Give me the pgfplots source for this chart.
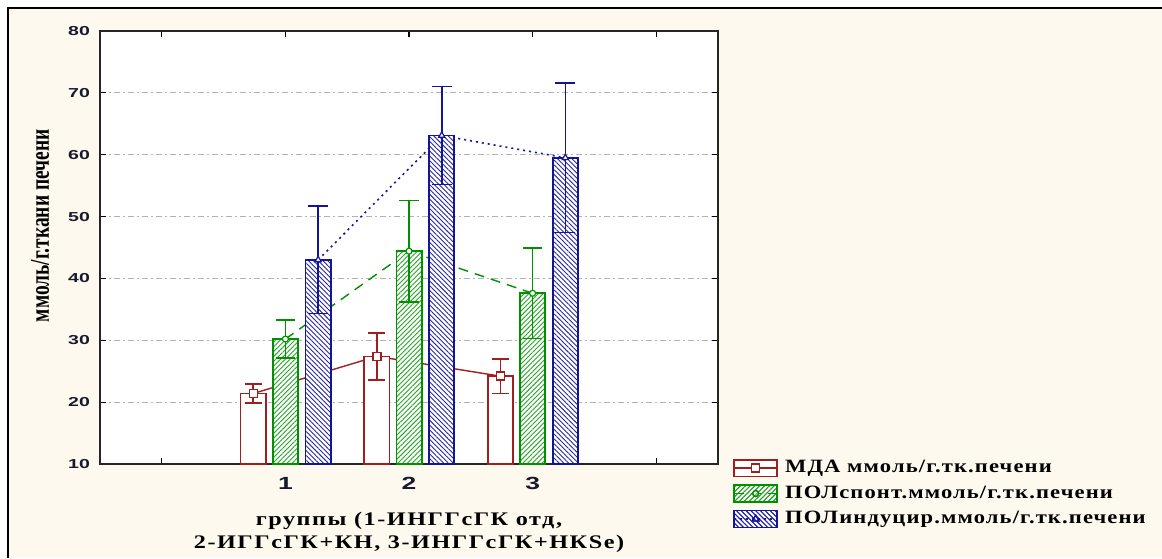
\documentclass[border=0pt]{standalone}
\usepackage{fontspec}
\setmainfont{Liberation Serif}
\newfontfamily\labelfont{Liberation Serif}[FakeStretch=1.2,LetterSpace=6]
\newfontfamily\xlabfont{Liberation Serif}[FakeStretch=1.26,LetterSpace=8]
\newfontfamily\ylabfont{Liberation Serif}[FakeStretch=0.72]
\newfontfamily\tickfont{Liberation Sans}[FakeStretch=1.5]
\usepackage{pgfplots}
\pgfplotsset{compat=1.18}
\usepackage{pgfplotstable}
\usetikzlibrary{patterns.meta}

\definecolor{bgcream}{RGB}{254,249,238}
\definecolor{mdared}{RGB}{160,30,30}
\definecolor{spgreen}{RGB}{0,145,0}
\definecolor{sphatch}{RGB}{40,165,40}
\definecolor{indblue}{RGB}{20,20,150}
\definecolor{indhatch}{RGB}{40,40,160}
\definecolor{ticktext}{RGB}{25,25,45}

\pgfplotstableread{
x  mda  mdae  sp   spe  ind  inde
1  21.4 1.5   30.2 3.1  43.0 8.7
2  27.4 3.8   44.4 8.2  63.1 7.9
3  24.2 2.8   37.6 7.3  59.5 12.1
}\data

\begin{document}
\begin{tikzpicture}
\fill[white] (0,0) rectangle (581pt,279pt);
\fill[bgcream] (4pt,0) rectangle (581pt,275pt);
\draw[black, line width=1pt] (4pt,0) -- (4pt,275pt) -- (581pt,275pt);
\begin{axis}[
  at={(50pt,47pt)}, anchor=south west,
  scale only axis, width=309pt, height=216.5pt,
  axis background/.style={fill=white},
  xmin=-0.5, xmax=4.5, ymin=10, ymax=80,
  xtick={0,1,2,3,4}, xticklabels={,1,2,3,},
  ytick={10,20,...,80},
  tick align=inside, major tick length=3pt,
  tick style={black, line width=0.6pt},
  ymajorgrids,
  grid style={gray!60, line width=0.5pt, dash pattern=on 3pt off 1.5pt on 1pt off 1.5pt},
  axis line style={black!85, line width=0.9pt},
  /pgf/number format/assume math mode=true,
  yticklabel style={font=\tickfont\bfseries\fontsize{6.5}{7}\selectfont, text=ticktext, xshift=-1.5pt},
  xticklabel style={font=\tickfont\bfseries\fontsize{8.8}{10}\selectfont, text=ticktext, yshift=-3pt},
  ylabel={ммоль/г.ткани печени},
  ylabel style={font=\ylabfont\bfseries\fontsize{13.5}{14}\selectfont, at={(axis description cs:-0.097,0.55)}, anchor=center},
  xlabel={группы (1-ИНГГсГК отд,\\2-ИГГсГК+КН, 3-ИНГГсГК+НКSe)},
  xlabel style={font=\xlabfont\bfseries\fontsize{9.6}{11.5}\selectfont, align=center, at={(axis description cs:0.5,-0.158)}, anchor=center},
  legend style={at={(axis description cs:1,0)}, anchor=north west, xshift=7.5pt, yshift=3pt, draw=none, fill=none, inner sep=0pt, row sep=3pt, font=\labelfont\bfseries\fontsize{9.4}{11}\selectfont, nodes={inner sep=1pt}},
  legend cell align=left,
]
% connecting lines (behind the bars)
\addplot[forget plot, mdared, line width=0.7pt] table[x expr=\thisrow{x}-0.26, y=mda] {\data};
\addplot[forget plot, spgreen, line width=0.7pt, dash pattern=on 5pt off 3.5pt] table[x=x, y=sp] {\data};
\addplot[forget plot, indblue, line width=0.8pt, dash pattern=on 1pt off 2pt] table[x expr=\thisrow{x}+0.265, y=ind] {\data};
% bars
\addplot[ybar, bar width=12.6pt, bar shift=0pt, draw=mdared, fill=white, line width=0.8pt,
  legend image code/.code={
    \draw[draw=mdared, fill=white, line width=0.8pt] (0pt,-4.2pt) rectangle (21.5pt,4.2pt);
    \draw[mdared, line width=0.7pt] (0pt,0pt) -- (21.5pt,0pt);
    \draw[mdared, fill=white, line width=0.7pt] (8.75pt,-2pt) rectangle (12.75pt,2pt);
    \path (24pt,0pt);
  }] table[x expr=\thisrow{x}-0.26, y=mda] {\data};
\addlegendentry{МДА ммоль/г.тк.печени}
\addplot[ybar, bar width=12.6pt, bar shift=0pt, draw=spgreen, fill=white, line width=0.9pt,
  postaction={pattern={Lines[angle=45,distance=1.7pt,line width=0.45pt]}, pattern color=sphatch},
  legend image code/.code={
    \draw[draw=spgreen, fill=white, line width=0.8pt, postaction={pattern={Lines[angle=45,distance=1.7pt,line width=0.45pt]}, pattern color=sphatch}] (0pt,-4.2pt) rectangle (21.5pt,4.2pt);
    \draw[spgreen, line width=0.7pt, dash pattern=on 5pt off 3.5pt] (0pt,0pt) -- (21.5pt,0pt);
    \draw[spgreen, fill=white, line width=0.6pt] (10.75pt,0pt) circle (1.5pt);
    \path (24pt,0pt);
  }] table[x=x, y=sp] {\data};
\addlegendentry{ПОЛспонт.ммоль/г.тк.печени}
\addplot[ybar, bar width=12.6pt, bar shift=0pt, draw=indblue, fill=white, line width=0.9pt,
  postaction={pattern={Lines[angle=-45,distance=1.7pt,line width=0.45pt]}, pattern color=indhatch},
  legend image code/.code={
    \draw[draw=indblue, fill=white, line width=0.8pt, postaction={pattern={Lines[angle=-45,distance=1.7pt,line width=0.45pt]}, pattern color=indhatch}] (0pt,-4.2pt) rectangle (21.5pt,4.2pt);
    \draw[indblue, line width=0.8pt, dash pattern=on 1pt off 2pt] (0pt,0pt) -- (21.5pt,0pt);
    \draw[indblue, fill=white, line width=0.6pt] (9.1pt,-1pt) -- (12.4pt,-1pt) -- (10.75pt,1.9pt) -- cycle;
    \path (24pt,0pt);
  }] table[x expr=\thisrow{x}+0.265, y=ind] {\data};
\addlegendentry{ПОЛиндуцир.ммоль/г.тк.печени}
% error bars and means
\addplot[forget plot, only marks, mdared, mark=square*, mark size=2pt, mark options={fill=white, solid, line width=0.7pt},
  error bars/.cd, y dir=both, y explicit,
  error bar style={line width=0.8pt, solid},
  error mark options={rotate=90, mark size=4.3pt, line width=0.8pt, solid}]
  table[x expr=\thisrow{x}-0.26, y=mda, y error=mdae] {\data};
\addplot[forget plot, only marks, spgreen, mark=*, mark size=1.5pt, mark options={fill=white, solid, line width=0.6pt},
  error bars/.cd, y dir=both, y explicit,
  error bar style={line width=0.8pt, solid},
  error mark options={rotate=90, mark size=4.8pt, line width=0.8pt, solid}]
  table[x=x, y=sp, y error=spe] {\data};
\addplot[forget plot, only marks, indblue, mark=triangle*, mark size=1.8pt, mark options={fill=white, solid, line width=0.6pt},
  error bars/.cd, y dir=both, y explicit,
  error bar style={line width=0.8pt, solid},
  error mark options={rotate=90, mark size=5pt, line width=0.8pt, solid}]
  table[x expr=\thisrow{x}+0.265, y=ind, y error=inde] {\data};
\end{axis}
\pgfresetboundingbox
\path (0,0) rectangle (581pt,279pt);
\end{tikzpicture}
\end{document}
